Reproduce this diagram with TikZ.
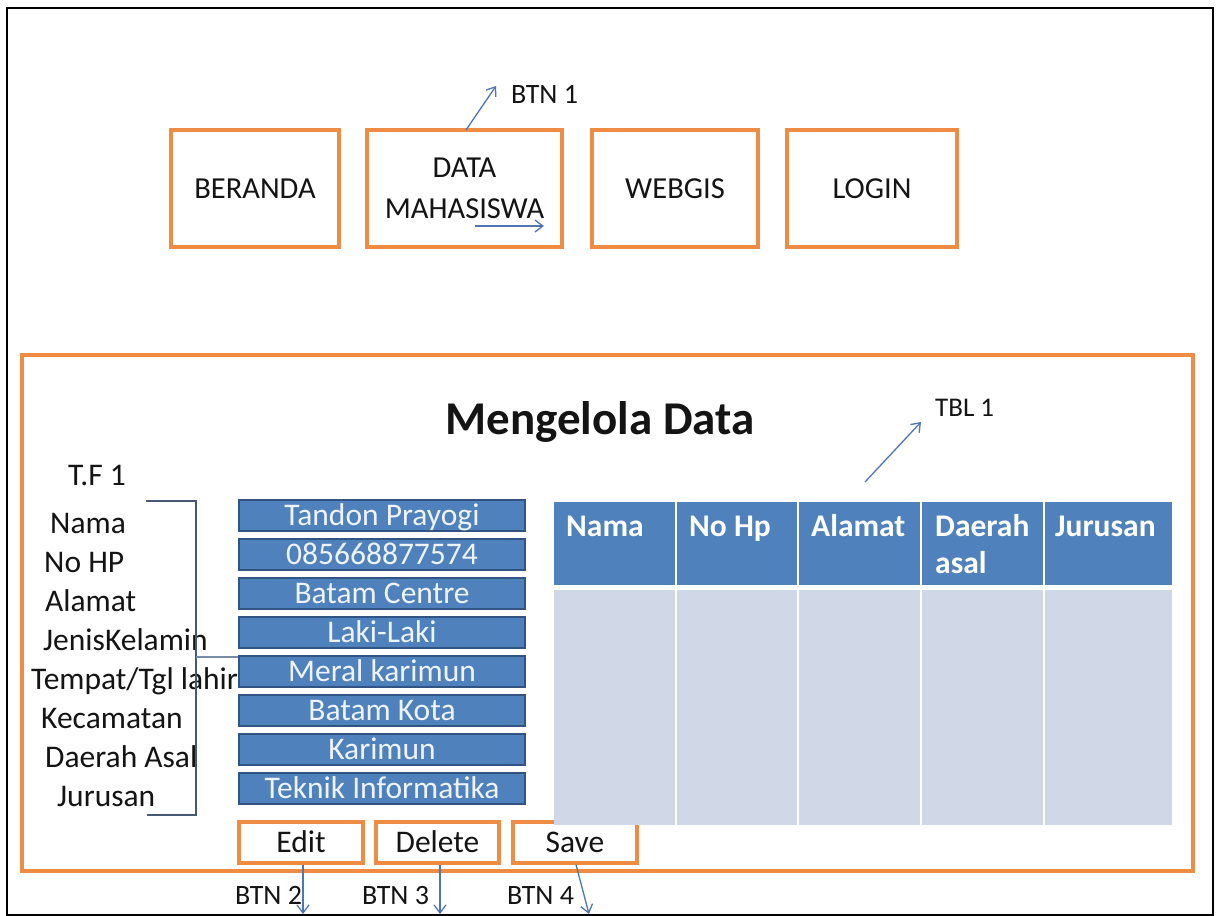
\documentclass[tikz,border=0pt]{standalone}
\usepackage{fontspec}
\setmainfont{Carlito}
\usetikzlibrary{arrows.meta}

\definecolor{boxorange}{RGB}{238,140,68}
\definecolor{ink}{RGB}{20,20,20}
\definecolor{fieldblue}{RGB}{79,129,189}
\definecolor{fieldedge}{RGB}{50,84,130}
\definecolor{fieldtext}{RGB}{238,243,252}
\definecolor{headblue}{RGB}{79,129,189}
\definecolor{bodyblue}{RGB}{208,216,232}
\definecolor{arrowblue}{RGB}{78,118,180}
\definecolor{bracketgray}{RGB}{70,88,115}
\definecolor{linkgray}{RGB}{120,140,170}

\tikzset{
  orangebox/.style={draw=boxorange, line width=3.2pt, fill=white, inner sep=0pt},
  topbox/.style={orangebox, minimum height=117pt, align=center, text=ink,
    font=\fontsize{30.5}{40}\selectfont},
  btnbox/.style={orangebox, minimum height=41pt, text=ink,
    font=\fontsize{31.5}{36}\selectfont, text height=20.3pt, text depth=0pt},
  field/.style={draw=fieldedge, fill=fieldblue, line width=2pt,
    minimum width=286pt, minimum height=31pt, inner sep=0pt, text=fieldtext,
    font=\fontsize{31.5}{36}\selectfont, text height=20.3pt, text depth=0pt},
  fieldlabel/.style={anchor=base west, inner sep=0pt, text=ink,
    font=\fontsize{31.5}{36}\selectfont},
  tag/.style={anchor=base west, inner sep=0pt, text=ink,
    font=\fontsize{28}{32}\selectfont},
  pointer/.style={draw=arrowblue, line width=1.3pt,
    -{Straight Barb[length=8pt,width=12pt]}},
  headcell/.style={fill=headblue, inner sep=0pt, minimum height=83pt},
  bodycell/.style={fill=bodyblue, inner sep=0pt, minimum height=235pt},
  headtext/.style={anchor=base west, inner sep=0pt, text=white, align=left,
    font=\fontsize{31.5}{37}\selectfont\bfseries},
  bracketline/.style={draw=bracketgray, line width=1.6pt},
  linkline/.style={draw=linkgray, line width=1.6pt},
}

\begin{document}
\begin{tikzpicture}[x=1pt,y=-1pt]
  \useasboundingbox (0,0) rectangle (1219,916);
  \fill[white] (0,0) rectangle (1219,916);

  % page frame
  \node[draw=black, line width=2.6pt, inner sep=0pt,
        minimum width=1206pt, minimum height=907pt] (frame) at (610,461.5) {};

  % navigation bar
  \node[topbox, minimum width=168pt] (beranda) at (255,188.5) {BERANDA};
  \node[topbox, minimum width=195pt] (datamhs) at (464.5,188.5) {DATA\\[1pt]MAHASISWA};
  \node[topbox, minimum width=166pt] (webgis) at (675,188.5) {WEBGIS};
  \node[topbox, minimum width=170pt] (login) at (872,188.5) {LOGIN};

  \node[tag] (btn1) at (511,103) {BTN 1};
  \coordinate (btn1from) at (466,130);
  \coordinate (btn1to) at (496,86);
  \draw[pointer] (btn1from) -- (btn1to);
  \coordinate (navfrom) at (475,226);
  \coordinate (navto) at (544,226);
  \draw[pointer] (navfrom) -- (navto);

  % form panel
  \node[orangebox, fill=none, minimum width=1171pt, minimum height=516pt]
        (panel) at (607.5,613) {};
  \node[inner sep=0pt, anchor=base, text=ink,
        font=\fontsize{47}{52}\selectfont\bfseries] (title) at (600,434) {Mengelola Data};

  % field captions
  \node[fieldlabel] (tf1) at (68,485) {T.F 1};
  \node[fieldlabel] (lnama) at (50,533) {Nama};
  \node[fieldlabel] (lhp) at (44,572) {No HP};
  \node[fieldlabel] (lalamat) at (45,611) {Alamat};
  \node[fieldlabel] (ljk) at (43,650) {JenisKelamin};
  \node[fieldlabel] (lttl) at (31,689) {Tempat/Tgl lahir};
  \node[fieldlabel] (lkec) at (41,728) {Kecamatan};
  \node[fieldlabel] (ldaerah) at (45,767) {Daerah Asal};
  \node[fieldlabel] (ljur) at (57,806) {Jurusan};

  % text fields
  \node[field] (f1) at (382,515.5) {Tandon Prayogi};
  \node[field] (f2) at (382,554.5) {085668877574};
  \node[field] (f3) at (382,593.5) {Batam Centre};
  \node[field] (f4) at (382,632.5) {Laki-Laki};
  \node[field] (f5) at (382,671.5) {Meral karimun};
  \node[field] (f6) at (382,710.5) {Batam Kota};
  \node[field] (f7) at (382,749.5) {Karimun};
  \node[field] (f8) at (382,788.5) {Teknik Informatika};

  % bracket grouping the captions
  \coordinate (brtop) at (146,501);
  \coordinate (brtopr) at (196,501);
  \coordinate (brbotr) at (196,815);
  \coordinate (brbot) at (147,815);
  \coordinate (brmid) at (196,657);
  \draw[bracketline] (brtop) -- (brtopr) -- (brbotr) -- (brbot);
  \draw[linkline] (brmid) -- (f5.west |- brmid);

  % buttons
  \node[btnbox, minimum width=124pt] (edit) at (301,842.5) {Edit};
  \node[btnbox, minimum width=123pt] (delete) at (437.5,842.5) {Delete};
  \node[btnbox, minimum width=124pt] (save) at (575,842.5) {Save};

  \coordinate (editto) at (303,914);
  \coordinate (deleteto) at (440,914);
  \coordinate (saveto) at (589,914);
  \draw[pointer] (edit.south -| editto) -- (editto);
  \draw[pointer] (delete.south -| deleteto) -- (deleteto);
  \draw[pointer] ([xshift=1pt]save.south) -- (saveto);
  \node[tag] (btn2) at (235,904) {BTN 2};
  \node[tag] (btn3) at (362,904) {BTN 3};
  \node[tag] (btn4) at (507,904) {BTN 4};

  % data table
  \node[headcell, minimum width=121pt] (h1) at (614.5,543.5) {};
  \node[headcell, minimum width=120pt] (h2) at (737,543.5) {};
  \node[headcell, minimum width=121pt] (h3) at (859.5,543.5) {};
  \node[headcell, minimum width=121pt] (h4) at (982.5,543.5) {};
  \node[headcell, minimum width=127pt] (h5) at (1108.5,543.5) {};
  \node[bodycell, minimum width=121pt] (b1) at (614.5,707.5) {};
  \node[bodycell, minimum width=120pt] (b2) at (737,707.5) {};
  \node[bodycell, minimum width=121pt] (b3) at (859.5,707.5) {};
  \node[bodycell, minimum width=121pt] (b4) at (982.5,707.5) {};
  \node[bodycell, minimum width=127pt] (b5) at (1108.5,707.5) {};

  \node[headtext] (t1) at (566,536) {Nama};
  \node[headtext] (t2) at (689,536) {No Hp};
  \node[headtext] (t3) at (811,536) {Alamat};
  \node[headtext] (t4) at (935,573) {Daerah\\asal};
  \node[headtext] (t5) at (1055,536) {Jurusan};

  \node[tag, font=\fontsize{27}{30}\selectfont] (tbl1) at (935,416) {TBL 1};
  \coordinate (tblfrom) at (865,482);
  \coordinate (tblto) at (921,422);
  \draw[pointer] (tblfrom) -- (tblto);
\end{tikzpicture}
\end{document}
